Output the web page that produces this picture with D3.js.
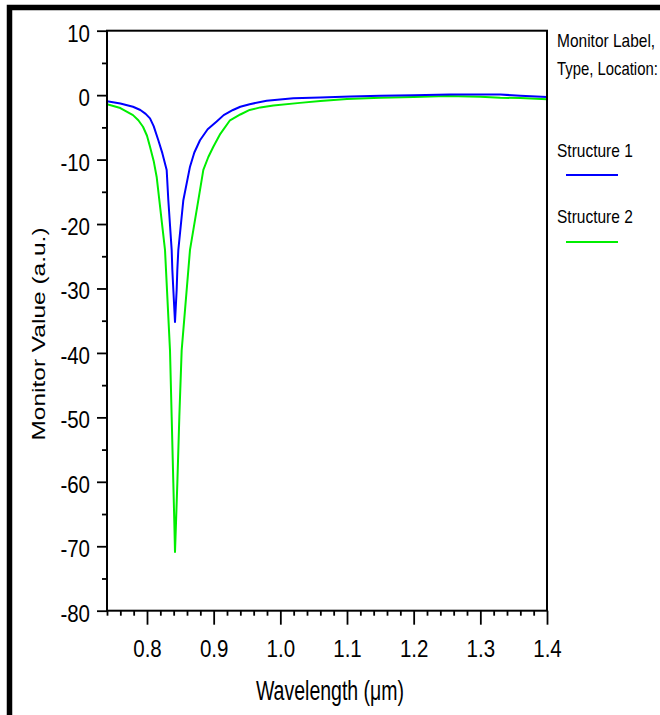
<!DOCTYPE html>
<html>
<head>
<meta charset="utf-8">
<script src="https://cdn.jsdelivr.net/npm/d3@7"></script>
<style>
  html, body { margin: 0; padding: 0; background: #fff; }
  svg { display: block; }
  text { font-family: "Liberation Sans", Arial, sans-serif; fill: #000; }
</style>
</head>
<body>
<svg id="chart" width="660" height="715"></svg>
<script>
// ---- data ----
const wavelength1 = [0.740, 0.760, 0.779, 0.790, 0.798, 0.8045, 0.810, 0.817, 0.823, 0.8295, 0.832, 0.837, 0.838, 0.8395, 0.842,
  0.8445, 0.8455, 0.847, 0.8545, 0.8645, 0.871, 0.8795, 0.891, 0.9045, 0.915, 0.929, 0.940, 0.954, 0.9795, 1.0195, 1.06, 1.105, 1.15,
  1.20, 1.254, 1.30, 1.33, 1.36, 1.40];
const structure1 = [-0.95, -1.3, -1.8, -2.3, -2.9, -3.6, -4.8, -7.0, -9.0, -11.6, -16.3, -24.0, -27.1, -30.2, -35.2,
  -30.2, -27.1, -24.0, -16.3, -11.1, -8.9, -7.0, -5.3, -4.1, -3.1, -2.3, -1.8, -1.4, -0.87, -0.5, -0.35, -0.2, -0.1,
  0.0, 0.1, 0.1, 0.1, -0.1, -0.3];

const wavelength2 = [0.740, 0.760, 0.779, 0.787, 0.794, 0.800, 0.8045, 0.810, 0.8145, 0.8185, 0.827, 0.8345, 0.837, 0.8395, 0.841,
  0.842, 0.8435, 0.8455, 0.8485, 0.852, 0.8645, 0.877, 0.8845, 0.892, 0.8995, 0.910, 0.9245, 0.940, 0.954, 0.970, 0.9895, 1.0295,
  1.06, 1.10, 1.15, 1.20, 1.25, 1.30, 1.33, 1.36, 1.40];
const structure2 = [-1.4, -2.0, -3.1, -3.9, -4.9, -6.3, -8.0, -10.2, -12.7, -16.3, -24.0, -39.6, -49.9, -60.2, -66.4,
  -70.9, -66.4, -60.2, -49.9, -39.6, -24.0, -16.3, -11.6, -9.6, -8.0, -6.0, -3.9, -3.0, -2.3, -1.9, -1.6, -1.2,
  -0.9, -0.6, -0.4, -0.3, -0.15, -0.25, -0.4, -0.45, -0.65];

const seriesNames = ["Structure 1", "Structure 2"];
const seriesColors = ["#0000ff", "#00ee00"];

const yTicks = [10, 0, -10, -20, -30, -40, -50, -60, -70, -80];
const yTickLabels = ["10", "0", "-10", "-20", "-30", "-40", "-50", "-60", "-70", "-80"];
const xTicks = [0.8, 0.9, 1.0, 1.1, 1.2, 1.3, 1.4];
const xTickLabels = ["0.8", "0.9", "1.0", "1.1", "1.2", "1.3", "1.4"];

const xTitle = "Wavelength (\u03bcm)";
const yTitle = "Monitor Value (a.u.)";
const legendHeader = ["Monitor Label,", "Type, Location:"];

// ---- layout ----
const L = 107, R = 547, T = 30.7, B = 610.7;
const svg = d3.select("#chart");
svg.append("rect").attr("width", 660).attr("height", 715).attr("fill", "#fff");

// outer black frame (right/bottom sides fall outside the window)
svg.append("rect").attr("x", 9.5).attr("y", 7.5).attr("width", 800).attr("height", 800)
  .attr("fill", "none").attr("stroke", "#000").attr("stroke-width", 5.5);

const x = d3.scaleLinear().domain([0.74, 1.4]).range([L, R]);
const y = d3.scaleLinear().domain([-80, 10]).range([B, T]);

// clip
svg.append("clipPath").attr("id", "clip").append("rect")
  .attr("x", L).attr("y", T).attr("width", R - L).attr("height", B - T);

// lines
const line = d3.line().x(d => x(d[0])).y(d => y(d[1]));
const series = [
  d3.zip(wavelength1, structure1),
  d3.zip(wavelength2, structure2)
];
[1, 0].forEach(i => {
  svg.append("path").datum(series[i])
    .attr("clip-path", "url(#clip)")
    .attr("fill", "none").attr("stroke", seriesColors[i])
    .attr("stroke-width", 2).attr("stroke-linejoin", "round")
    .attr("d", line);
});

// axes
const fs = 20.5;
const yMinor = d3.range(-75, 10, 10);
const xMinor = d3.range(0, 34).map(i => +(0.74 + i * 0.02).toFixed(2)).filter(v => !xTicks.some(t => Math.abs(t - v) < 1e-6));

const gyMinor = svg.append("g").attr("transform", `translate(${L},0)`)
  .call(d3.axisLeft(y).tickValues(yMinor).tickSize(5).tickFormat(""));
const gy = svg.append("g").attr("transform", `translate(${L},0)`)
  .call(d3.axisLeft(y).tickValues(yTicks).tickSize(10).tickFormat((d, i) => yTickLabels[i]));
const gxMinor = svg.append("g").attr("transform", `translate(0,${B})`)
  .call(d3.axisBottom(x).tickValues(xMinor).tickSize(5).tickFormat(""));
const gx = svg.append("g").attr("transform", `translate(0,${B})`)
  .call(d3.axisBottom(x).tickValues(xTicks).tickSize(14).tickFormat((d, i) => xTickLabels[i]));

[gy, gyMinor, gx, gxMinor].forEach(g => {
  g.select(".domain").remove();
  g.selectAll("line").attr("stroke", "#000").attr("stroke-width", 1.8);
});

const ky = 1.2, kx = 1.13;
gy.selectAll("text")
  .attr("font-family", "Liberation Sans, Arial, sans-serif")
  .attr("font-size", fs).attr("fill", "#000")
  .attr("text-anchor", "end")
  .attr("x", -17).attr("dy", null).attr("y", 10.5 / ky)
  .attr("transform", `scale(1,${ky})`);
gx.selectAll("text")
  .attr("font-family", "Liberation Sans, Arial, sans-serif")
  .attr("font-size", fs).attr("fill", "#000")
  .attr("text-anchor", "middle")
  .attr("dy", null).attr("y", 46.3 / kx)
  .attr("transform", `scale(1,${kx})`);

// plot box
svg.append("rect").attr("x", L).attr("y", T).attr("width", R - L).attr("height", B - T)
  .attr("fill", "none").attr("stroke", "#000").attr("stroke-width", 2);

// titles
svg.append("text")
  .attr("transform", `translate(330,700) scale(1,1.4)`)
  .attr("text-anchor", "middle").attr("font-size", 19.5)
  .text(xTitle);
svg.append("text")
  .attr("transform", `translate(45,334) rotate(-90) scale(1.4,1)`)
  .attr("text-anchor", "middle").attr("font-size", 17.5)
  .text(yTitle);

// legend
const kl = 1.2, lfs = 15.5;
const headerSx = [1, 0.96];
legendHeader.forEach((t, i) => {
  svg.append("text")
    .attr("transform", `translate(557,${[47, 75][i]}) scale(${headerSx[i]},${kl})`)
    .attr("font-size", lfs).text(t);
});
const legendTextY = [157, 223], legendLineY = [175, 242];
seriesNames.forEach((n, i) => {
  svg.append("text")
    .attr("transform", `translate(557,${legendTextY[i]}) scale(1,${kl})`)
    .attr("font-size", lfs).text(n);
  svg.append("line")
    .attr("x1", 566).attr("x2", 618).attr("y1", legendLineY[i]).attr("y2", legendLineY[i])
    .attr("stroke", seriesColors[i]).attr("stroke-width", 2);
});
</script>
</body>
</html>
